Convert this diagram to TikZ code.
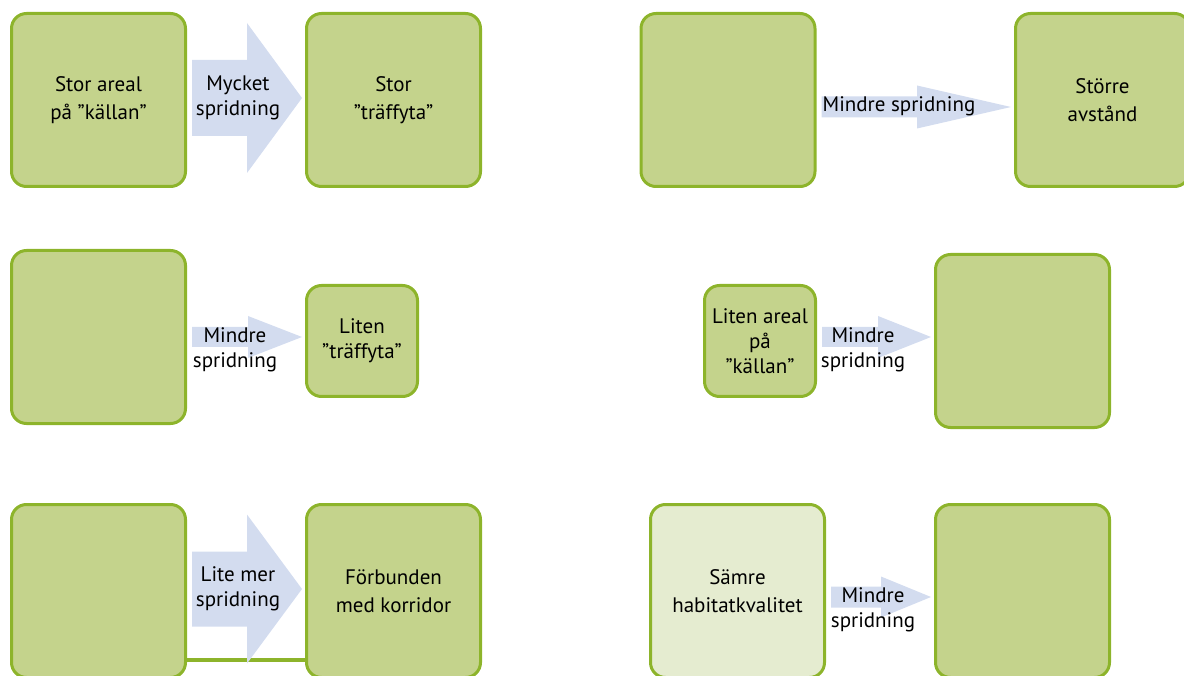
\documentclass[tikz,border=0pt]{standalone}
\usepackage{fontspec}
\setmainfont{PT Sans}
\usetikzlibrary{calc}

\definecolor{boxgreen}{HTML}{C4D38C}
\definecolor{edgegreen}{HTML}{8DB42B}
\definecolor{palegreen}{HTML}{E5ECD0}
\definecolor{arrowblue}{HTML}{D3DCEF}

\tikzset{
  patch/.style={draw=edgegreen, fill=boxgreen, line width=3pt, rounded corners=15pt,
    minimum width=174pt, minimum height=173pt, align=center, inner sep=0pt,
    font=\fontsize{21}{28}\selectfont},
  smallpatch/.style={patch, minimum width=111pt, minimum height=111pt,
    font=\fontsize{21}{25}\selectfont},
  flowtext/.style={align=center, inner sep=0pt, font=\fontsize{21}{25}\selectfont},
}

% blockpil: fran, till, y, halv kropp, halvt huvud, huvudlangd
\newcommand{\spreadarrow}[6]{%
  \coordinate (tail) at ($(#1.east |- 0,#3)+(5,0)$);
  \coordinate (tip) at ($(#2.west |- 0,#3)+(-3,0)$);
  \fill[arrowblue] ($(tail)+(0,-#4)$) -- ($(tip)+(-#6,-#4)$) -- ($(tip)+(-#6,-#5)$)
    -- (tip) -- ($(tip)+(-#6,#5)$) -- ($(tip)+(-#6,#4)$) -- ($(tail)+(0,#4)$) -- cycle;
}

\begin{document}
\begin{tikzpicture}[x=1pt, y=-1pt]

        \clip (0,0) rectangle (1184,676);

        % Stor areal -> stor traffyta
        \node[patch] (stor) at (98.5,100) {Stor areal\\på ”källan”};
        \node[patch] (traff) at (393.5,100) {Stor\\”träffyta”};
        \spreadarrow{stor}{traff}{98}{38}{75}{55}
        \node[flowtext] (mycket) at (238,98) {Mycket\\spridning};

        % Storre avstand
        \node[patch] (nara) at (728,100) {};
        \node[patch] (avstand) at (1102.5,100) {Större\\avstånd};
        \spreadarrow{nara}{avstand}{107}{10.5}{21.5}{94}
        \node[flowtext] (mindreA) at (899,106) {Mindre spridning};

        % Liten traffyta
        \node[patch] (kallaB) at (98.5,337) {};
        \node[smallpatch] (liten) at (362,341) {Liten\\”träffyta”};
        \spreadarrow{kallaB}{liten}{337}{10}{21}{54}
        \node[flowtext] (mindreB) at (235,350) {Mindre\\spridning};

        % Liten areal pa kallan
        \node[smallpatch] (litenkalla) at (760,341) {Liten areal\\på\\”källan”};
        \node[patch] (maalC) at (1022.5,341) {};
        \spreadarrow{litenkalla}{maalC}{337}{10}{21}{53}
        \node[flowtext] (mindreC) at (863,350) {Mindre\\spridning};

        % Korridor
        \node[patch] (kallaD) at (98.5,591) {};
        \node[patch] (korridor) at (393.5,591) {Förbunden\\med korridor};
        \draw[edgegreen, line width=4.5pt] (kallaD.east |- 0,660) -- (korridor.west |- 0,660);
        \spreadarrow{kallaD}{korridor}{589}{37.5}{74.5}{55}
        \node[flowtext] (litemer) at (238,589) {Lite mer\\spridning};

        % Samre habitatkvalitet
        \node[patch, fill=palegreen] (samre) at (737.5,591) {Sämre\\habitatkvalitet};
        \node[patch] (maalE) at (1022.5,591) {};
        \spreadarrow{samre}{maalE}{597}{10.5}{20.5}{50}
        \node[flowtext] (mindreE) at (873,610) {Mindre\\spridning};

    \end{tikzpicture}
\end{document}
